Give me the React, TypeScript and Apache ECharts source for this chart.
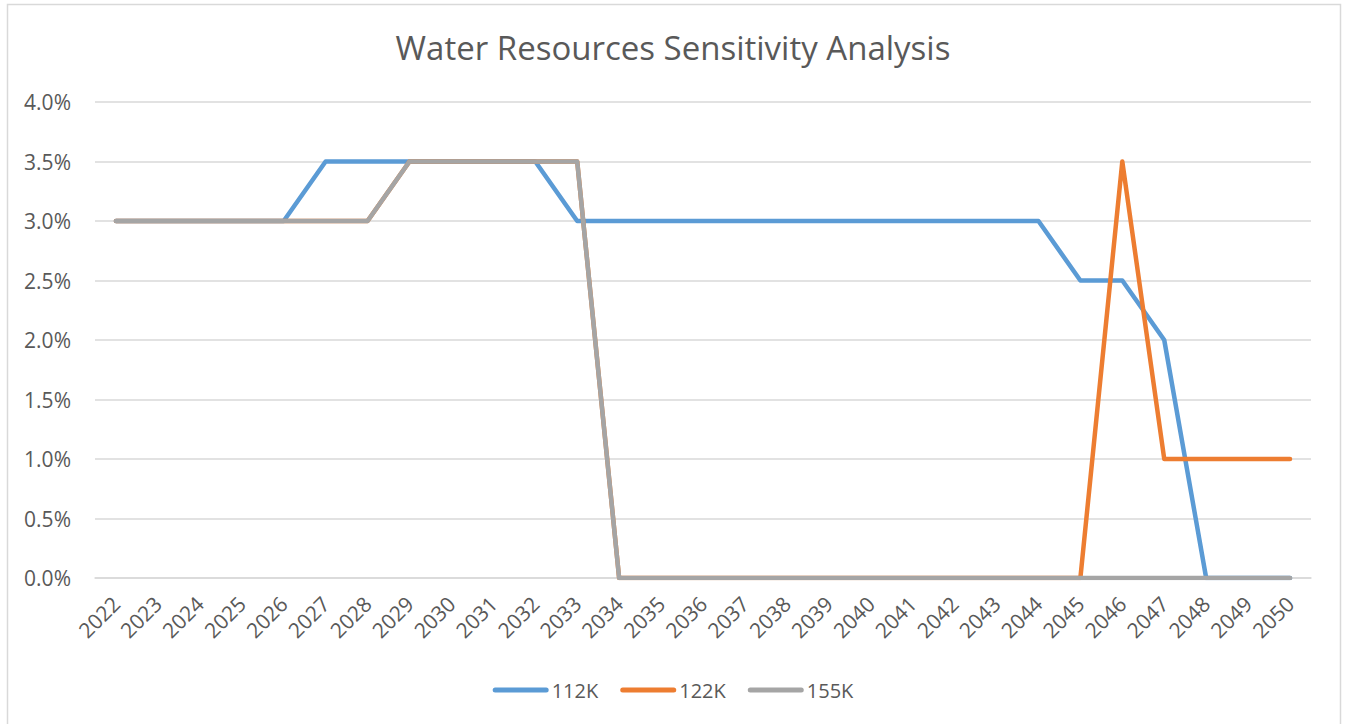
import React, { useEffect, useRef } from "react";
import * as echarts from "echarts";

const years = [
  "2022", "2023", "2024", "2025", "2026", "2027", "2028", "2029", "2030", "2031",
  "2032", "2033", "2034", "2035", "2036", "2037", "2038", "2039", "2040", "2041",
  "2042", "2043", "2044", "2045", "2046", "2047", "2048", "2049", "2050",
];

const s112K = [
  3.0, 3.0, 3.0, 3.0, 3.0, 3.5, 3.5, 3.5, 3.5, 3.5,
  3.5, 3.0, 3.0, 3.0, 3.0, 3.0, 3.0, 3.0, 3.0, 3.0,
  3.0, 3.0, 3.0, 2.5, 2.5, 2.0, 0.0, 0.0, 0.0,
];
const s122K = [
  3.0, 3.0, 3.0, 3.0, 3.0, 3.0, 3.0, 3.5, 3.5, 3.5,
  3.5, 3.5, 0.0, 0.0, 0.0, 0.0, 0.0, 0.0, 0.0, 0.0,
  0.0, 0.0, 0.0, 0.0, 3.5, 1.0, 1.0, 1.0, 1.0,
];
const s155K = [
  3.0, 3.0, 3.0, 3.0, 3.0, 3.0, 3.0, 3.5, 3.5, 3.5,
  3.5, 3.5, 0.0, 0.0, 0.0, 0.0, 0.0, 0.0, 0.0, 0.0,
  0.0, 0.0, 0.0, 0.0, 0.0, 0.0, 0.0, 0.0, 0.0,
];

const seriesNames = ["112K", "122K", "155K"];
const seriesColors = ["#5B9BD5", "#ED7D31", "#A5A5A5"];
const seriesData = [s112K, s122K, s155K];

const FONT = "'Open Sans', 'Noto Sans', sans-serif";
const TEXT = "#595959";
const LEGEND_ICON =
  "path://M2.5 0 L53.5 0 A2.5 2.5 0 0 1 53.5 5 L2.5 5 A2.5 2.5 0 0 1 2.5 0 Z";

export default function App() {
  const ref = useRef<HTMLDivElement>(null);
  useEffect(() => {
    if (!ref.current) return;
    const chart = echarts.init(ref.current, undefined, { renderer: "svg" });
    chart.setOption({
      animation: false,
      backgroundColor: "#ffffff",
      textStyle: { fontFamily: FONT },
      title: {
        text: "Water Resources Sensitivity Analysis",
        left: "center",
        top: 26,
        textStyle: { fontFamily: FONT, fontSize: 33, fontWeight: "normal", color: TEXT },
      },
      graphic: [
        {
          type: "rect",
          shape: { x: 7.5, y: 4.5, width: 1333, height: 740 },
          style: { fill: "none", stroke: "#D9D9D9", lineWidth: 1.5 },
          silent: true,
        },
      ],
      legend: {
        top: 675,
        left: "center",
        icon: LEGEND_ICON,
        itemWidth: 56,
        itemHeight: 5,
        itemGap: 22,
        textStyle: { fontFamily: FONT, fontSize: 20, color: TEXT, padding: [0, 0, 0, -2] },
        data: seriesNames,
      },
      grid: { left: 95, right: 35, top: 102, bottom: 146 },
      xAxis: {
        type: "category",
        data: years,
        boundaryGap: true,
        axisLine: { show: true, lineStyle: { color: "#D9D9D9", width: 1.5 } },
        axisTick: { show: false },
        axisLabel: {
          rotate: 45,
          margin: 22,
          fontFamily: FONT,
          fontSize: 21,
          color: TEXT,
          interval: 0,
        },
      },
      yAxis: {
        type: "value",
        min: 0,
        max: 4,
        interval: 0.5,
        axisLine: { show: false },
        axisTick: { show: false },
        splitLine: { lineStyle: { color: "#D9D9D9", width: 1.5 } },
        axisLabel: {
          formatter: (v: number) => v.toFixed(1) + "%",
          fontFamily: FONT,
          fontSize: 21,
          color: TEXT,
          margin: 24,
        },
      },
      series: seriesNames.map((name, i) => ({
        name,
        type: "line",
        data: seriesData[i],
        symbol: "none",
        color: seriesColors[i],
        lineStyle: { width: 4.5, color: seriesColors[i], cap: "round", join: "round" },
        z: 2 + i,
      })),
    });
    return () => chart.dispose();
  }, []);
  return (
    <div
      ref={ref}
      style={{ position: "absolute", left: 0, top: 0, width: 1346, height: 724 }}
    />
  );
}
